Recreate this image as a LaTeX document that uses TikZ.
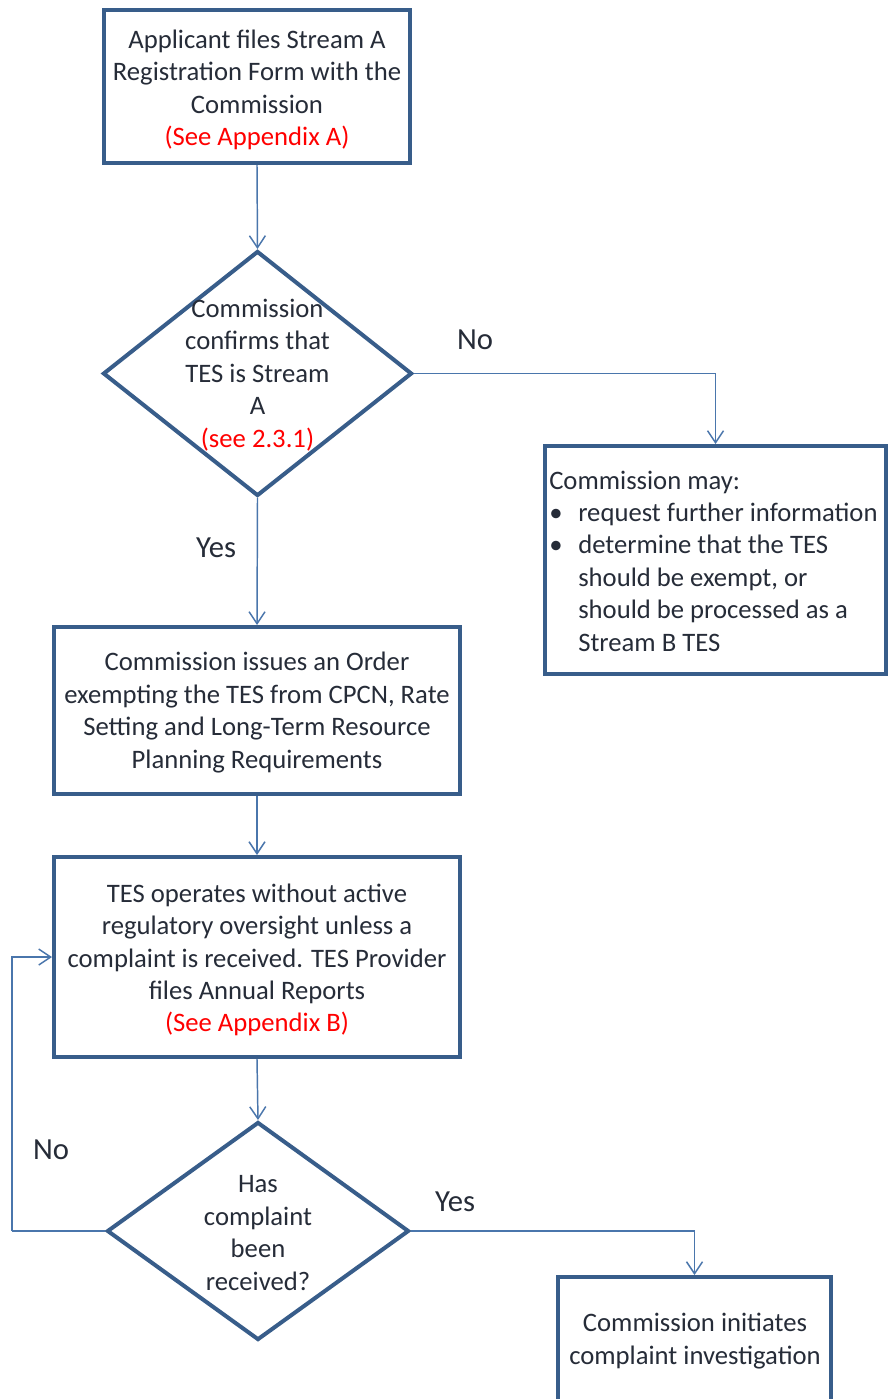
\documentclass[tikz,border=0pt]{standalone}
\usepackage{fontspec}
\setmainfont{Carlito}
\usetikzlibrary{shapes.geometric,arrows.meta}
\definecolor{boxline}{RGB}{56,93,138}
\definecolor{connline}{RGB}{74,118,172}
\definecolor{ink}{RGB}{38,44,56}
\definecolor{note}{RGB}{255,0,0}
\tikzset{
  body/.style={font=\fontsize{20pt}{24.3pt}\selectfont, text=ink},
  stepbox/.style={draw=boxline, line width=3pt, rectangle, inner sep=0pt},
  decision/.style={draw=boxline, line width=3pt, diamond, inner sep=0pt},
  plain/.style={body, inner sep=0pt, align=center},
  branch/.style={font=\fontsize{23pt}{26pt}\selectfont, text=ink, inner sep=0pt},
  flow/.style={draw=connline, line width=1.1pt, -{Straight Barb[length=9pt,width=12pt]}},
  loopline/.style={draw=connline, line width=1.1pt}
}
\begin{document}
\begin{tikzpicture}[x=0.75pt,y=-0.75pt]
\clip (0,0) rectangle (888,1399);
\fill[white] (0,0) rectangle (888,1399);

% process boxes
\node[stepbox, minimum width=229.5pt, minimum height=114.75pt] (apply) at (257,86.5) {};
\node[plain] (applytext) at (257,90)
  {Applicant files Stream A\\Registration Form with the\\Commission\\\textcolor{note}{(See Appendix A)}};

\node[stepbox, minimum width=304.5pt, minimum height=125.25pt] (order) at (257,710.5) {};
\node[plain] (ordertext) at (257,712.5)
  {Commission issues an Order\\exempting the TES from CPCN, Rate\\Setting and Long-Term Resource\\Planning Requirements};

\node[stepbox, minimum width=304.5pt, minimum height=150pt] (operate) at (257,957) {};
\node[plain] (operatetext) at (257,960)
  {TES operates without active\\regulatory oversight unless a\\complaint is received. TES Provider\\files Annual Reports\\\textcolor{note}{(See Appendix B)}};

\node[stepbox, minimum width=255.75pt, minimum height=171pt] (may) at (715.5,560) {};
\node[plain, align=left, anchor=west] (maytext) at (549,561)
  {Commission may:\\
   \makebox[21.75pt][l]{\textbullet}request further information\\
   \makebox[21.75pt][l]{\textbullet}determine that the TES\\
   \hspace*{21.75pt}should be exempt, or\\
   \hspace*{21.75pt}should be processed as a\\
   \hspace*{21.75pt}Stream B TES};

\node[stepbox, minimum width=204.75pt, minimum height=122.25pt] (investigate) at (694.5,1358.5) {};
\node[plain] (invtext) at (695,1341)
  {Commission initiates\\complaint investigation};

% decisions
\node[decision, minimum width=231.75pt, minimum height=183.75pt] (confirm) at (257.5,373.5) {};
\node[plain] (confirmtext) at (257.5,375)
  {Commission\\confirms that\\TES is Stream\\A\\\textcolor{note}{(see 2.3.1)}};

\node[decision, minimum width=226.5pt, minimum height=163.5pt] (complaint) at (258,1231) {};
\node[plain] (complainttext) at (258,1233)
  {Has\\complaint\\been\\received?};

% branch labels
\node[branch] (no1) at (475,340) {No};
\node[branch] (yes1) at (216,548) {Yes};
\node[branch] (no2) at (51,1150) {No};
\node[branch] (yes2) at (455,1202) {Yes};

% connectors
\coordinate (back) at (12,1231);
\draw[flow] (apply.south) -- (confirm.north);
\draw[flow] (confirm.east) -| (may.north);
\draw[flow] (confirm.south) -- (order.north);
\draw[flow] (order.south) -- (operate.north);
\draw[flow] (operate.south) -- (complaint.north);
\draw[loopline] (complaint.west) -- (back);
\draw[flow] (back) |- (operate.west);
\draw[flow] (complaint.east) -| (investigate.north);
\end{tikzpicture}
\end{document}
